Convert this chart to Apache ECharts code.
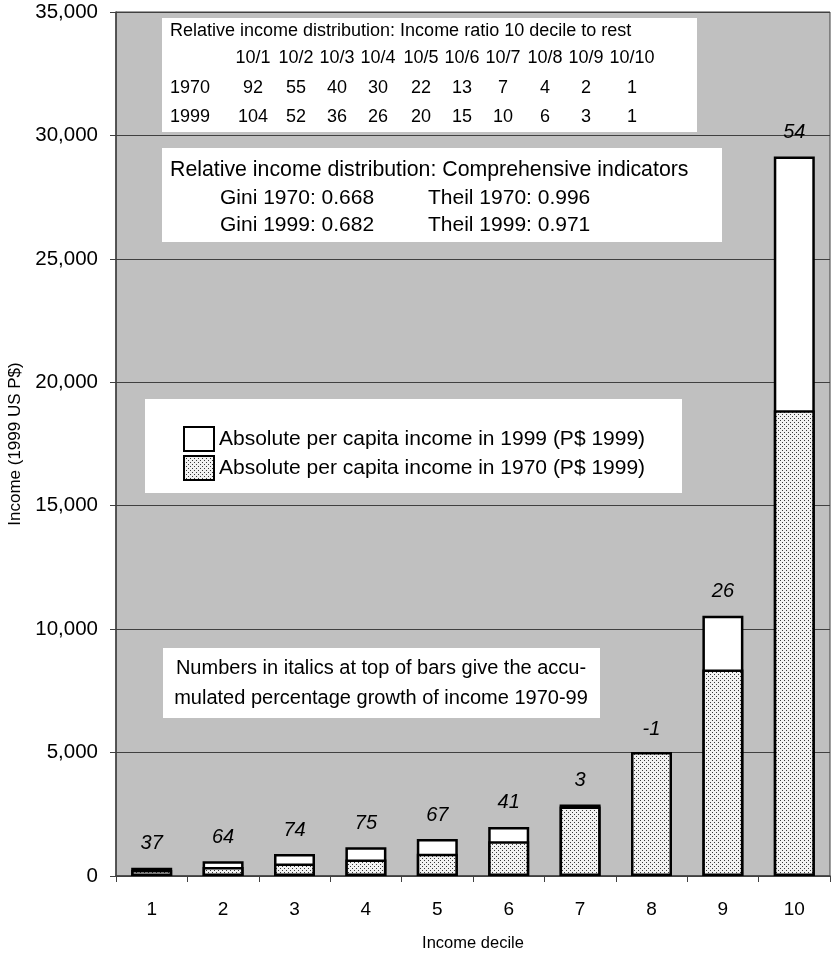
<!DOCTYPE html>
<html>
<head>
<meta charset="utf-8">
<script src="https://cdn.jsdelivr.net/npm/echarts@6/dist/echarts.min.js"></script>
<style>
  html, body { margin: 0; padding: 0; background: #ffffff; }
  #chart { width: 837px; height: 955px; }
</style>
</head>
<body>
<div id="chart"></div>
<script>
// ---- Data ----
const deciles = ['1', '2', '3', '4', '5', '6', '7', '8', '9', '10'];
const income1970 = [240, 365, 510, 665, 900, 1410, 2820, 5020, 8370, 18870];
const income1999 = [330, 600, 890, 1165, 1500, 1990, 2900, 4970, 10540, 29150];
const growthPct = [37, 64, 74, 75, 67, 41, 3, -1, 26, 54];

const ratioHeaders = ['10/1', '10/2', '10/3', '10/4', '10/5', '10/6', '10/7', '10/8', '10/9', '10/10'];
const ratio1970 = [92, 55, 40, 30, 22, 13, 7, 4, 2, 1];
const ratio1999 = [104, 52, 36, 26, 20, 15, 10, 6, 3, 1];

const gini = { y1970: '0.668', y1999: '0.682' };
const theil = { y1970: '0.996', y1999: '0.971' };

const name1999 = 'Absolute per capita income in 1999 (P$ 1999)';
const name1970 = 'Absolute per capita income in 1970 (P$ 1999)';

// ---- Pattern for 1970 bars ----
const pc = document.createElement('canvas');
pc.width = 4; pc.height = 4;
const pctx = pc.getContext('2d');
pctx.fillStyle = '#f2f2f2';
pctx.fillRect(0, 0, 4, 4);
pctx.fillStyle = '#3a3a3a';
pctx.fillRect(0, 0, 1, 1);
pctx.fillRect(2, 2, 1, 1);
const dotted = { image: pc, repeat: 'repeat' };

const FONT = '"Liberation Sans", Arial, sans-serif';

// ---- Graphic boxes ----
function box(x, y, w, h) {
  return { type: 'rect', shape: { x: x, y: y, width: w, height: h }, style: { fill: '#ffffff', stroke: null }, z: 5 };
}
function txt(t, x, y, size, align) {
  return { type: 'text', x: x, y: y, z: 6,
    style: { text: t, fontSize: size, fontFamily: FONT, fill: '#000', align: align || 'left', verticalAlign: 'middle' } };
}
const graphics = [];
// Box 1: ratio table
graphics.push(box(162, 18, 535, 114));
graphics.push(txt('Relative income distribution: Income ratio 10 decile to rest', 170, 31, 18));
const colX = [253, 296, 337, 378, 421, 462, 503, 545, 586, 632];
ratioHeaders.forEach((h, i) => graphics.push(txt(h, colX[i], 58, 18, 'center')));
graphics.push(txt('1970', 170, 88, 18));
graphics.push(txt('1999', 170, 117, 18));
ratio1970.forEach((v, i) => graphics.push(txt(String(v), colX[i], 88, 18, 'center')));
ratio1999.forEach((v, i) => graphics.push(txt(String(v), colX[i], 117, 18, 'center')));
// Box 2: indicators
graphics.push(box(162, 148, 560, 94));
graphics.push(txt('Relative income distribution: Comprehensive indicators', 170, 170, 21.3));
graphics.push(txt('Gini 1970: ' + gini.y1970, 220, 198, 21));
graphics.push(txt('Theil 1970: ' + theil.y1970, 428, 198, 21));
graphics.push(txt('Gini 1999: ' + gini.y1999, 220, 225, 21));
graphics.push(txt('Theil 1999: ' + theil.y1999, 428, 225, 21));
// Legend box
graphics.push(box(145, 399, 537, 94));
// Note box
graphics.push(box(163, 648, 437, 70));
graphics.push(txt('Numbers in italics at top of bars give the accu-', 381, 668, 20, 'center'));
graphics.push(txt('mulated percentage growth of income 1970-99', 381, 698, 20, 'center'));

const chart = echarts.init(document.getElementById('chart'), null, { renderer: 'canvas' });
chart.setOption({
  animation: false,
  backgroundColor: '#ffffff',
  textStyle: { fontFamily: FONT },
  grid: { left: 116, right: 7, top: 12, bottom: 79, containLabel: false, outerBoundsMode: 'none',
    show: true, backgroundColor: '#c0c0c0', borderColor: '#404040', borderWidth: 1 },
  legend: {
    data: [name1999, name1970],
    orient: 'vertical',
    left: 178, top: 421,
    itemWidth: 30, itemHeight: 24, itemGap: 3,
    icon: 'rect',
    selectedMode: false,
    textStyle: { fontSize: 21, color: '#000', fontFamily: FONT },
    z: 10
  },
  xAxis: {
    type: 'category',
    data: deciles,
    name: 'Income decile',
    nameLocation: 'middle',
    nameGap: 59,
    nameTextStyle: { fontSize: 16.5, color: '#000', fontFamily: FONT },
    axisLine: { lineStyle: { color: '#404040', width: 1.5 } },
    axisTick: { show: true, alignWithLabel: false, length: 6, lineStyle: { color: '#404040' } },
    axisLabel: { fontSize: 19, color: '#000', margin: 24, fontFamily: FONT }
  },
  yAxis: {
    type: 'value',
    min: 0, max: 35000, interval: 5000,
    name: 'Income (1999 US P$)',
    nameLocation: 'middle',
    nameRotate: 90,
    nameGap: 92,
    nameTextStyle: { fontSize: 17, color: '#000', fontFamily: FONT },
    axisLine: { show: true, lineStyle: { color: '#404040', width: 1.5 } },
    axisTick: { show: true, length: 6, lineStyle: { color: '#404040' } },
    axisLabel: { fontSize: 20.5, color: '#000', margin: 18, fontFamily: FONT,
      formatter: v => v.toLocaleString('en-US') },
    splitLine: { show: true, lineStyle: { color: '#404040', width: 1 } }
  },
  series: [
    {
      name: name1999,
      type: 'bar',
      data: income1999,
      barWidth: 41,
      barGap: '-100%',
      itemStyle: { color: '#ffffff', borderColor: '#000', borderWidth: 2.5 },
      label: {
        show: true, position: 'top', distance: 14,
        fontSize: 20, fontStyle: 'italic', color: '#000', fontFamily: FONT,
        formatter: p => String(growthPct[p.dataIndex])
      },
      z: 2
    },
    {
      name: name1970,
      type: 'bar',
      data: income1970,
      barWidth: 41,
      barGap: '-100%',
      itemStyle: { color: dotted, borderColor: '#000', borderWidth: 2.5 },
      z: 3
    }
  ],
  graphic: graphics
});
</script>
</body>
</html>
